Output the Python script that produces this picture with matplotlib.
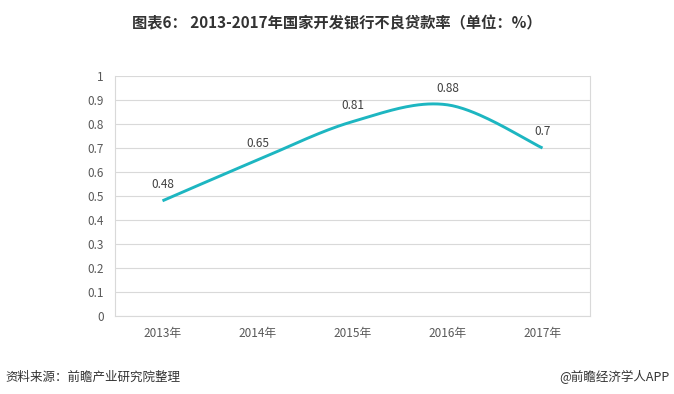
import numpy as np
import matplotlib
matplotlib.use('Agg')
import matplotlib.pyplot as plt

plt.rcParams['font.family'] = ['Noto Sans CJK SC', 'DejaVu Sans']

# Data
years = ['2013年', '2014年', '2015年', '2016年', '2017年']
npl_rate = [0.48, 0.65, 0.81, 0.88, 0.70]
value_labels = ['0.48', '0.65', '0.81', '0.88', '0.7']
yticks = [0, 0.1, 0.2, 0.3, 0.4, 0.5, 0.6, 0.7, 0.8, 0.9, 1]
ytick_labels = ['0', '0.1', '0.2', '0.3', '0.4', '0.5', '0.6', '0.7', '0.8', '0.9', '1']

LINE = '#1DB6C1'
GRID = '#D9D9D9'
TXT = '#595959'


def smooth(xs, ys, n=40):
    # Excel-like smoothed line: Catmull-Rom segments as cubic Bezier
    pts = np.column_stack([xs, ys]).astype(float)
    ext = np.vstack([pts[0], pts, pts[-1]])
    out = []
    for i in range(len(pts) - 1):
        p0, p1, p2, p3 = ext[i], ext[i + 1], ext[i + 2], ext[i + 3]
        c1 = p1 + (p2 - p0) / 6.0
        c2 = p2 - (p3 - p1) / 6.0
        t = np.linspace(0, 1, n)[:, None]
        seg = ((1 - t) ** 3 * p1 + 3 * (1 - t) ** 2 * t * c1
               + 3 * (1 - t) * t ** 2 * c2 + t ** 3 * p2)
        out.append(seg if i == 0 else seg[1:])
    out = np.vstack(out)
    return out[:, 0], out[:, 1]


fig = plt.figure(figsize=(6.74, 3.94), dpi=100)
ax = fig.add_axes([0.1706, 0.198, 0.7048, 0.609])

x = np.arange(len(years))
sx, sy = smooth(x, npl_rate)
ax.plot(sx, sy, color=LINE, lw=2.1, solid_capstyle='butt', zorder=3)
for xi, yi, lab in zip(x, npl_rate, value_labels):
    ax.annotate(lab, (xi, yi), xytext=(0, 7), textcoords='offset points',
                ha='center', va='bottom', fontsize=8.5, color='#404040')

ax.set_xlim(-0.5, len(years) - 0.5)
ax.set_ylim(0, 1)
ax.set_yticks(yticks)
ax.set_yticklabels(ytick_labels)
ax.set_xticks(x)
ax.set_xticklabels(years)
ax.tick_params(axis='both', length=0, labelsize=8.5, labelcolor=TXT)
ax.tick_params(axis='y', pad=8)
ax.tick_params(axis='x', pad=8)
ax.yaxis.grid(True, color=GRID, lw=0.8)
ax.set_axisbelow(True)
for side in ['left', 'right', 'bottom']:
    ax.spines[side].set_color(GRID)
    ax.spines[side].set_linewidth(0.8)
ax.spines['top'].set_visible(False)

fig.text(0.5, 0.942, '图表6： 2013-2017年国家开发银行不良贷款率（单位：%）',
         ha='center', va='center', fontsize=11, fontweight='bold',
         color='#333333')
fig.text(0.008, 0.043, '资料来源：前瞻产业研究院整理', ha='left',
         va='center', fontsize=9, style='italic', color='#333333')
fig.text(0.993, 0.043, '@前瞻经济学人APP', ha='right', va='center',
         fontsize=9, color='#333333')

fig.savefig('out.png', dpi=100)
